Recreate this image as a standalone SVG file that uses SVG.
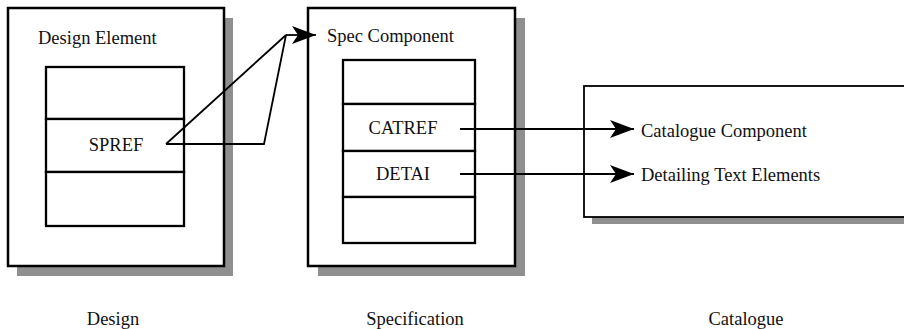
<svg xmlns="http://www.w3.org/2000/svg" width="904" height="329" viewBox="0 0 904 329">
  <style>
    .shadow { fill: #8f8f8f; }
    .frame { fill: #ffffff; stroke: #000000; stroke-width: 2.5; }
    .frame-thin { fill: #ffffff; stroke: #000000; stroke-width: 1.8; }
    .cell { fill: #ffffff; stroke: #000000; stroke-width: 2.3; }
    .label { font-family: "Liberation Serif", "Times New Roman", serif; font-size: 18.5px; fill: #111111; }
    .mid { text-anchor: middle; }
    .link { fill: none; stroke: #000000; stroke-width: 1.8; stroke-linejoin: miter; }
  </style>
  <defs>
    <marker id="head" markerUnits="userSpaceOnUse" viewBox="0 0 24 18" refX="24" refY="9" markerWidth="24" markerHeight="18" orient="auto">
      <path d="M0,0 L24,9 L0,18 L6,9 Z" fill="#000000"/>
    </marker>
  </defs>

  <rect width="904" height="329" fill="#ffffff"/>

  <!-- Design column -->
  <g id="design-element">
    <rect class="shadow" x="17" y="18" width="216" height="258"/>
    <rect class="frame" x="8" y="8" width="216" height="258"/>
    <text class="label" x="38" y="44">Design Element</text>
    <rect class="cell" x="46" y="67" width="138" height="52"/>
    <rect class="cell" x="46" y="119" width="138" height="53"/>
    <rect class="cell" x="46" y="172" width="138" height="54"/>
    <text class="label mid" x="116" y="151">SPREF</text>
  </g>

  <!-- Specification column -->
  <g id="spec-component">
    <rect class="shadow" x="318" y="18" width="207" height="258"/>
    <rect class="frame" x="308" y="8" width="207" height="258"/>
    <text class="label" x="327" y="42">Spec Component</text>
    <rect class="cell" x="343" y="60" width="132" height="44"/>
    <rect class="cell" x="343" y="104" width="132" height="47"/>
    <rect class="cell" x="343" y="151" width="132" height="46"/>
    <rect class="cell" x="343" y="197" width="132" height="46"/>
    <text class="label mid" x="403" y="134">CATREF</text>
    <text class="label mid" x="403" y="180">DETAI</text>
  </g>

  <!-- Catalogue column -->
  <g id="catalogue">
    <rect class="shadow" x="592" y="93" width="330" height="131"/>
    <rect class="frame-thin" x="584" y="86" width="330" height="131"/>
    <text class="label" x="641" y="137">Catalogue Component</text>
    <text class="label" x="641" y="181">Detailing Text Elements</text>
  </g>

  <!-- Column captions -->
  <g id="captions">
    <text class="label mid" x="113" y="325">Design</text>
    <text class="label mid" x="415" y="325">Specification</text>
    <text class="label mid" x="746" y="325">Catalogue</text>
  </g>

  <!-- Connectors -->
  <g id="connectors">
    <path class="link" d="M166,144 L264,144 L286,35 M166,144 L286,35"/>
    <path class="link" d="M286,35 L316,35" marker-end="url(#head)"/>
    <path class="link" d="M460,129 L634,129" marker-end="url(#head)"/>
    <path class="link" d="M460,174 L634,174" marker-end="url(#head)"/>
  </g>
</svg>
